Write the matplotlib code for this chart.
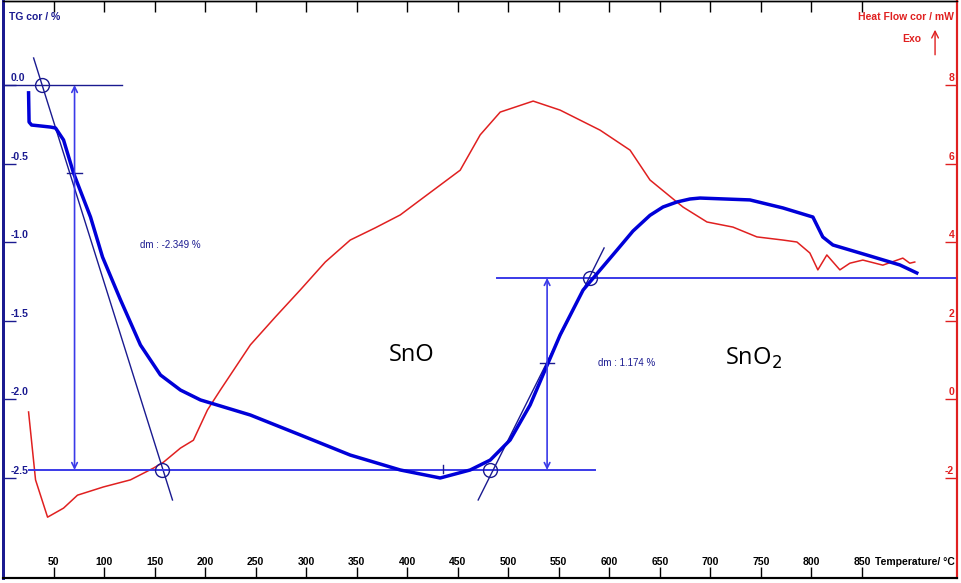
import matplotlib.pyplot as plt
import matplotlib.transforms as mtransforms

plt.rcParams['font.family'] = ['Liberation Sans', 'DejaVu Sans']

# TG curve (blue), temperature in degC, mass change in %
tg_temp = [25.3, 25.8, 28.3, 37.2, 47.1, 52.0, 59.9, 69.8, 86.6, 98.5, 116.3, 136.0,
           155.8, 175.6, 195.4, 244.8, 294.2, 343.6, 393.1, 432.6, 462.3, 482.1,
           501.8, 521.6, 536.4, 551.3, 574.0, 607.6, 623.4, 640.2, 653.1, 666.9, 679.8,
           689.7, 739.1, 771.7, 801.4, 811.2, 821.2, 854.8, 887.4, 904.2]
tg_val = [-0.05, -0.236, -0.255, -0.261, -0.268, -0.274, -0.350, -0.561, -0.841, -1.096,
          -1.369, -1.656, -1.847, -1.943, -2.006, -2.102, -2.229, -2.357, -2.452, -2.503,
          -2.452, -2.389, -2.261, -2.038, -1.815, -1.592, -1.306, -1.051, -0.930, -0.830,
          -0.777, -0.745, -0.726, -0.720, -0.732, -0.783, -0.841, -0.968, -1.019, -1.083,
          -1.146, -1.197]

# Heat flow curve (red), mW
hf_temp = [25.3, 32.2, 44.1, 59.9, 73.7, 99.4, 126.1, 148.9, 158.8, 175.6, 188.4, 202.3,
           215.1, 244.8, 269.5, 294.2, 318.9, 343.6, 368.3, 393.1, 412.8, 432.6, 452.4,
           472.2, 492.0, 524.6, 551.3, 590.8, 620.5, 640.2, 672.9, 696.6, 722.3, 746.0,
           771.7, 785.6, 798.4, 806.3, 815.2, 828.1, 838.0, 850.8, 870.6, 890.4, 897.3, 902.2]
hf_val = [-0.33, -2.06, -3.01, -2.78, -2.45, -2.24, -2.06, -1.76, -1.61, -1.25, -1.05, -0.28,
          0.23, 1.38, 2.09, 2.78, 3.49, 4.05, 4.36, 4.69, 5.07, 5.45, 5.83,
          6.73, 7.31, 7.59, 7.36, 6.85, 6.34, 5.58, 4.89, 4.51, 4.38, 4.13,
          4.05, 4.00, 3.72, 3.29, 3.67, 3.29, 3.46, 3.54, 3.41, 3.59, 3.46, 3.49]

x_ticks = [50, 100, 150, 200, 250, 300, 350, 400, 450, 500, 550, 600, 650, 700, 750, 800, 850]
tg_ticks = [0.0, -0.5, -1.0, -1.5, -2.0, -2.5]
hf_ticks = [8, 6, 4, 2, 0, -2]

# step evaluation
step1_top, step1_bot = 0.0, -2.452
step1_x, step1_infl = 70.8, -0.561
step2_top, step2_bot = -1.229, -2.452
step2_x, step2_infl = 538.4, -1.771

BLUE = '#0000d8'
LBLUE = '#3a3ae8'
NAVY = '#1a1a90'
RED = '#e02020'

fig = plt.figure(figsize=(9.62, 5.83), dpi=100)
ax = fig.add_axes([3 / 962, 5 / 583, 954 / 962, 577 / 583])
ax.set_xlim(0, 944)
ax.set_ylim(-3.14, 0.535)
ax2 = ax.twinx()
ax2.set_ylim(8 + 4 * -3.14, 8 + 4 * 0.535)

ax2.plot(hf_temp, hf_val, color=RED, lw=1.1, zorder=2)
ax.plot(tg_temp, tg_val, color=BLUE, lw=2.5, zorder=3)
ax.set_zorder(ax2.get_zorder() + 1)
ax.patch.set_visible(False)

# construction lines
ax.plot([0, 118.2], [0, 0], color=NAVY, lw=1.0)
ax.plot([30.3, 167.7], [0.172, -2.643], color=NAVY, lw=1.0)
ax.plot([25.3, 585.9], [step1_bot, step1_bot], color=LBLUE, lw=1.4)
ax.plot([489, 944], [step2_top, step2_top], color=LBLUE, lw=1.4)
ax.plot([470.2, 594.8], [-2.643, -1.038], color=NAVY, lw=1.0)
ax.annotate('', xy=(step1_x, step1_top), xytext=(step1_x, step1_bot),
            arrowprops=dict(arrowstyle='<->', color=LBLUE, lw=1.2, shrinkA=0, shrinkB=0))
ax.annotate('', xy=(step2_x, step2_top), xytext=(step2_x, step2_bot),
            arrowprops=dict(arrowstyle='<->', color=LBLUE, lw=1.2, shrinkA=0, shrinkB=0))
ax.plot([step1_x - 7, step1_x + 7], [step1_infl, step1_infl], color=NAVY, lw=1.0)
ax.plot([step2_x - 7, step2_x + 7], [step2_infl, step2_infl], color=NAVY, lw=1.0)
ax.plot([435.6, 435.6], [-2.42, -2.47], color=NAVY, lw=1.0)
ax.plot([38.2, 157.8, 482.0, 580.9], [0, step1_bot, step1_bot, step2_top], 'o',
        mfc='none', mec=NAVY, ms=10, mew=1.0)

ax.text(136, -1.019, 'dm : -2.349 %', color=NAVY, fontsize=7, va='center')
ax.text(588.8, step2_infl, 'dm : 1.174 %', color=NAVY, fontsize=7, va='center')
ax.text(404, -1.72, 'SnO', fontsize=17, family='Open Sans', ha='center', va='center')
ax.text(714, -1.74, 'SnO$_2$', fontsize=17, family='Open Sans', ha='left', va='center')

# ticks drawn inside, labels as text
ax.set_xticks(x_ticks)
ax.set_yticks(tg_ticks)
ax2.set_yticks(hf_ticks)
ax.tick_params(axis='x', direction='in', length=8, top=True, labelbottom=False, width=1)
ax.tick_params(axis='y', direction='in', length=9, labelleft=False, color=NAVY, width=1)
ax2.tick_params(axis='y', direction='in', length=9, labelright=False, color=RED, width=1)

xt = mtransforms.blended_transform_factory(ax.transData, ax.transAxes)
for t in x_ticks:
    ax.text(t, 0.027, str(t), transform=xt, ha='center', va='center',
            fontsize=7.5, fontweight='bold')
ax.text(0.998, 0.027, 'Temperature/ °C', transform=ax.transAxes, ha='right', va='center',
        fontsize=7.5, fontweight='bold')

yt = mtransforms.blended_transform_factory(ax.transAxes, ax.transData)
for v in tg_ticks:
    ax.text(0.008, v + 0.01, f'{v:.1f}', transform=yt, ha='left', va='bottom',
            fontsize=7.5, fontweight='bold', color=NAVY)
yt2 = mtransforms.blended_transform_factory(ax2.transAxes, ax2.transData)
for v in hf_ticks:
    ax2.text(0.997, v + 0.05, str(v), transform=yt2, ha='right', va='bottom',
             fontsize=7.5, fontweight='bold', color=RED)

ax.text(0.006, 0.972, 'TG cor / %', transform=ax.transAxes, ha='left', va='center',
        fontsize=7.5, fontweight='bold', color=NAVY)
ax.text(0.997, 0.972, 'Heat Flow cor / mW', transform=ax.transAxes, ha='right', va='center',
        fontsize=7.5, fontweight='bold', color=RED)
ax.text(0.963, 0.935, 'Exo', transform=ax.transAxes, ha='right', va='center',
        fontsize=7.5, fontweight='bold', color=RED)
ax.annotate('', xy=(0.977, 0.955), xytext=(0.977, 0.902), xycoords='axes fraction',
            arrowprops=dict(arrowstyle='->', color=RED, lw=1.0, mutation_scale=12))

for a in (ax, ax2):
    a.spines['left'].set_color(NAVY)
    a.spines['left'].set_linewidth(2)
    a.spines['right'].set_color(RED)
    a.spines['right'].set_linewidth(1.5)
    a.spines['bottom'].set_linewidth(1.5)
    a.spines['top'].set_linewidth(1.0)

fig.savefig('out.png', dpi=100)
